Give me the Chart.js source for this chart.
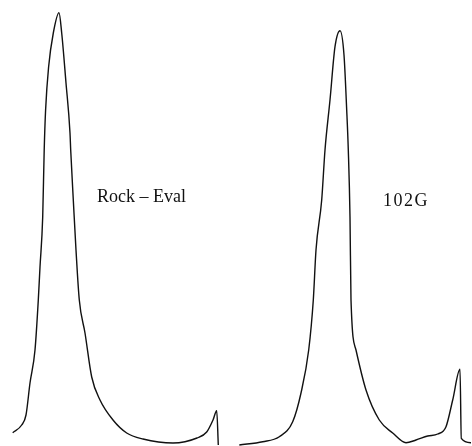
<!DOCTYPE html>
<html>
<head>
<meta charset="utf-8">
<script src="https://cdn.jsdelivr.net/npm/chart.js@4/dist/chart.umd.min.js"></script>
<style>
    html, body { margin: 0; padding: 0; background: #fff; }
    #wrap { width: 472px; height: 446px; position: relative; }
</style>
</head>
<body>
<div id="wrap"><canvas id="pyroChart"></canvas></div>
<script>
// Trace positions (horizontal) and detector signal (height above the base)
const rockEvalTime = [12.7, 21.7, 26, 30, 35, 38.3, 40, 42.7, 44.2, 45.6, 48.6, 53.3, 59, 61.7, 66, 70, 70.7, 73.3, 76, 79.3, 85, 91.7, 100, 113, 126.7, 143, 173, 197, 206.7, 213, 216.7, 218.3];
const rockEvalSignal = [13.3, 21, 31, 63, 96, 146, 179, 229, 296, 336, 379, 413, 433.3, 413, 363, 313, 296, 246, 196, 146, 113, 69, 46, 26, 13, 7, 3, 8, 14, 26, 35.3, 1];

const g102Time = [239.3, 262.7, 279.3, 292.7, 301, 308.7, 313.3, 316, 321.7, 325, 330, 335, 340, 344, 346.7, 348.3, 350, 351, 356, 366, 379.3, 392.7, 406, 416, 427.7, 437.7, 446, 452.7, 460, 461.3, 471];
const g102Signal = [1, 4.3, 9.3, 24.3, 53, 96, 146, 196, 246, 296, 346, 399.3, 415.3, 391, 336, 296, 229, 146, 96, 56, 26, 13, 3.3, 6, 10, 12, 19.3, 46, 76.7, 7.7, 3.3];

const traceLabels = ['Rock – Eval', '102G'];

function toPoints(xs, ys) {
    return xs.map((x, i) => ({ x: x, y: ys[i] }));
}

// Plain text labels placed beside each peak
const labelPlugin = {
    id: 'traceLabels',
    afterDatasetsDraw(chart) {
        const ctx = chart.ctx;
        const xs = chart.scales.x, ys = chart.scales.y;
        const spots = [[97, 244], [383, 240]];
        const spacing = ['0px', '1.5px'];
        ctx.save();
        ctx.fillStyle = '#111';
        ctx.font = "18px 'Liberation Serif', 'DejaVu Serif', serif";
        ctx.textBaseline = 'alphabetic';
        traceLabels.forEach((t, i) => {
            ctx.letterSpacing = spacing[i];
            ctx.fillText(t, xs.getPixelForValue(spots[i][0]), ys.getPixelForValue(spots[i][1]));
        });
        ctx.restore();
    }
};

document.addEventListener('DOMContentLoaded', function() {
    const ctx = document.getElementById('pyroChart').getContext('2d');
    new Chart(ctx, {
        type: 'line',
        data: {
            datasets: [{
                label: traceLabels[0],
                data: toPoints(rockEvalTime, rockEvalSignal),
                borderColor: '#111',
                borderWidth: 1.4,
                pointRadius: 0,
                fill: false,
                cubicInterpolationMode: 'monotone'
            }, {
                label: traceLabels[1],
                data: toPoints(g102Time, g102Signal),
                borderColor: '#111',
                borderWidth: 1.4,
                pointRadius: 0,
                fill: false,
                cubicInterpolationMode: 'monotone'
            }]
        },
        options: {
            responsive: true,
            maintainAspectRatio: false,
            animation: false,
            layout: { padding: 0 },
            scales: {
                x: { type: 'linear', min: 0, max: 472, display: false },
                y: { type: 'linear', min: 0, max: 446, display: false }
            },
            plugins: {
                legend: { display: false },
                tooltip: { enabled: false }
            }
        },
        plugins: [labelPlugin]
    });
});
</script>
</body>
</html>
